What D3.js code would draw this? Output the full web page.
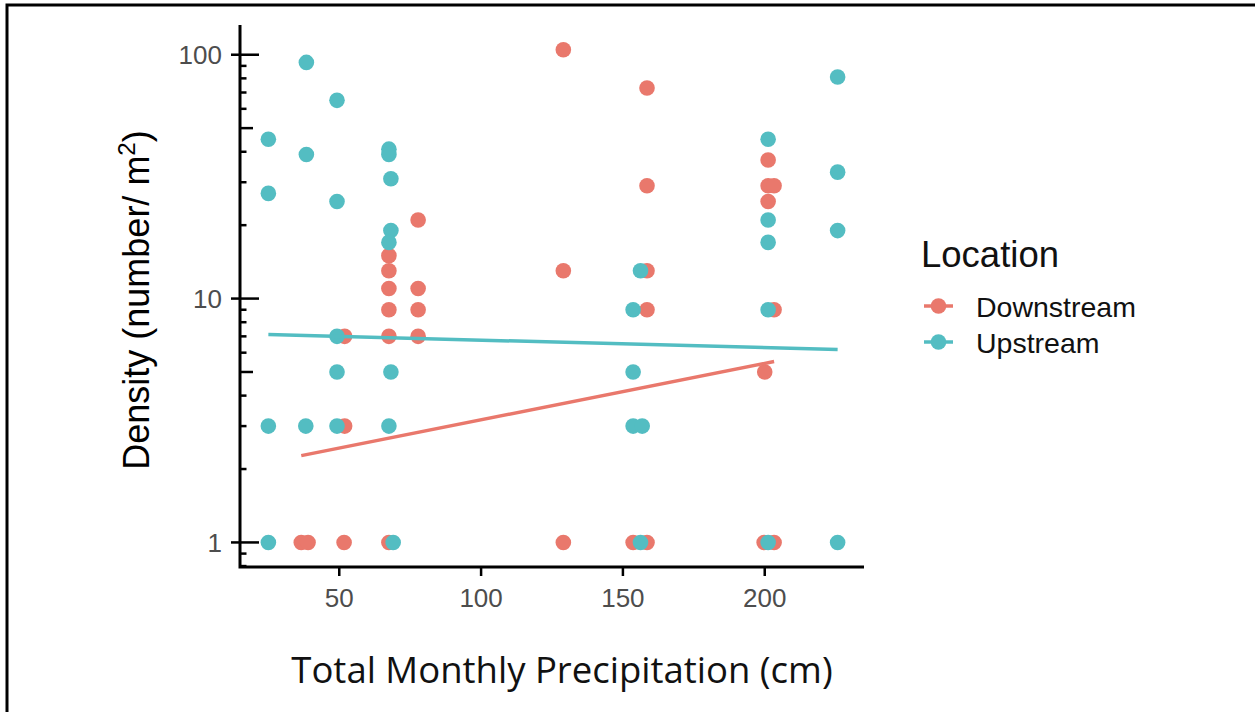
<!DOCTYPE html>
<html>
<head>
<meta charset="utf-8">
<script src="https://cdn.jsdelivr.net/npm/d3@7/dist/d3.min.js"></script>
<style>
    body { margin: 0; background: #ffffff; }
    svg { display: block; }
    .tickLabel { font-family: "Liberation Sans", Arial, sans-serif; font-size: 26px; fill: #4d4d4d; }
    .axisTitle { font-family: "Liberation Sans", Arial, sans-serif; font-size: 36px; fill: #000; }
    .xTitle { font-family: "Open Sans", "Noto Sans", sans-serif; font-size: 36.5px; fill: #111; }
    .legendTitle { font-family: "Liberation Sans", Arial, sans-serif; font-size: 36.5px; fill: #111; }
    .legendText { font-family: "Liberation Sans", Arial, sans-serif; font-size: 28.5px; fill: #111; }
</style>
</head>
<body>
<script>
//values
var downX = [36.6, 39.0, 51.9, 51.9, 51.7,
    67.5, 67.5, 67.5, 67.5, 67.5, 67.5,
    77.8, 77.8, 77.8, 77.8,
    129, 129, 129,
    158.5, 158.5, 158.5, 158.5, 153.6, 158.5,
    200, 201.2, 201.2, 203.3, 201.2, 203.3, 199.8, 203.3];
var downY = [1, 1, 7, 3, 1,
    15, 13, 11, 9, 7, 1,
    21, 11, 9, 7,
    104.8, 13, 1,
    73, 29, 13, 9, 1, 1,
    5, 37, 29, 29, 25, 9, 1, 1];

var upX = [25, 25, 25, 25,
    38.4, 38.4, 38.2,
    49.2, 49.2, 49.2, 49.2, 49.2,
    67.5, 67.5, 68.2, 68.2, 67.5, 68.2, 67.5, 69,
    153.6, 153.6, 153.6, 156.8, 156.2, 156.2,
    201.2, 201.2, 201.2, 201.2, 201.2,
    225.7, 225.7, 225.7, 225.7];
var upY = [45, 27, 3, 1,
    93, 39, 3,
    65, 25, 7, 5, 3,
    41, 39, 31, 19, 17, 5, 3, 1,
    9, 5, 3, 3, 13, 1,
    45, 21, 17, 9, 1,
    81, 33, 19, 1];

//fitted lines (end points)
var downFitX = [36.6, 203.3];
var downFitY = [2.27, 5.52];
var upFitX = [25, 225.7];
var upFitY = [7.12, 6.18];

var xTicks = [50, 100, 150, 200];
var yTicks = [1, 10, 100];
var seriesNames = ["Downstream", "Upstream"];

(function(){

    var width = 1255,
        height = 712;

    var colors = ["#e9786c", "#53bdc2"];

    //panel edges
    var left = 240, right = 864, top = 25, bottom = 567;

    var svg = d3.select("body")
        .append("svg")
        .attr("width", width)
        .attr("height", height);

    //frame round the picture
    svg.append("rect")
        .attr("x", 7)
        .attr("y", 5)
        .attr("width", width + 20)
        .attr("height", height + 20)
        .style("fill", "none")
        .style("stroke", "#000")
        .style("stroke-width", 3);

    var x = d3.scaleLinear()
        .domain([15, 235])
        .range([left, right]);

    var y = d3.scaleLog()
        .domain([0.793, 132.4])
        .range([bottom, top]);

    //log ticks inside the panel, 1-2-3 lengths
    var logTicks = [];
    [0.1, 1, 10, 100].forEach(function(dec){
        for (var k = 1; k < 10; k++){
            var v = dec * k;
            if (v >= y.domain()[0] && v <= y.domain()[1]){
                logTicks.push({v: v, len: k == 1 ? 19 : (k == 5 ? 13 : 6.5)});
            }
        }
    });

    svg.append("g")
        .selectAll("line")
        .data(logTicks)
        .enter()
        .append("line")
        .attr("x1", left)
        .attr("x2", function(d){ return left + d.len; })
        .attr("y1", function(d){ return y(d.v); })
        .attr("y2", function(d){ return y(d.v); })
        .style("stroke", "#000")
        .style("stroke-width", 2.5);

    //y axis ticks and labels
    var yAxis = svg.append("g");
    yAxis.selectAll("line")
        .data(yTicks)
        .enter()
        .append("line")
        .attr("x1", left - 9)
        .attr("x2", left)
        .attr("y1", function(d){ return y(d); })
        .attr("y2", function(d){ return y(d); })
        .style("stroke", "#000")
        .style("stroke-width", 2.5);
    yAxis.selectAll("text")
        .data(yTicks)
        .enter()
        .append("text")
        .attr("class", "tickLabel")
        .attr("x", left - 18)
        .attr("y", function(d){ return y(d) + 9.5; })
        .attr("text-anchor", "end")
        .text(function(d){ return d; });

    //x axis ticks and labels
    var xAxis = svg.append("g");
    xAxis.selectAll("line")
        .data(xTicks)
        .enter()
        .append("line")
        .attr("x1", function(d){ return x(d); })
        .attr("x2", function(d){ return x(d); })
        .attr("y1", bottom)
        .attr("y2", bottom + 9)
        .style("stroke", "#000")
        .style("stroke-width", 2.5);
    xAxis.selectAll("text")
        .data(xTicks)
        .enter()
        .append("text")
        .attr("class", "tickLabel")
        .attr("x", function(d){ return x(d); })
        .attr("y", 607)
        .attr("text-anchor", "middle")
        .text(function(d){ return d; });

    //axis lines
    svg.append("path")
        .attr("d", "M" + left + "," + top + "V" + bottom + "H" + right)
        .style("fill", "none")
        .style("stroke", "#000")
        .style("stroke-width", 3);

    //points, one series after the other
    var series = [
        {name: seriesNames[0], xs: downX, ys: downY, fx: downFitX, fy: downFitY, color: colors[0]},
        {name: seriesNames[1], xs: upX, ys: upY, fx: upFitX, fy: upFitY, color: colors[1]}
    ];

    series.forEach(function(s){
        svg.append("g")
            .selectAll("circle")
            .data(s.xs)
            .enter()
            .append("circle")
            .attr("cx", function(d){ return x(d); })
            .attr("cy", function(d, i){ return y(s.ys[i]); })
            .attr("r", 7.8)
            .style("fill", s.color);
    });

    //fitted lines
    var line = d3.line()
        .x(function(d){ return x(d[0]); })
        .y(function(d){ return y(d[1]); });

    series.forEach(function(s){
        svg.append("path")
            .datum(d3.zip(s.fx, s.fy))
            .attr("d", line)
            .style("fill", "none")
            .style("stroke", s.color)
            .style("stroke-width", 3.5);
    });

    //axis titles
    var yTitle = svg.append("text")
        .attr("class", "axisTitle")
        .attr("transform", "translate(149,300) rotate(-90)")
        .attr("text-anchor", "middle");
    yTitle.append("tspan").text("Density (number/ m");
    yTitle.append("tspan")
        .attr("font-size", "24px")
        .attr("dy", -14)
        .text("2");
    yTitle.append("tspan")
        .attr("dy", 14)
        .text(")");

    svg.append("text")
        .attr("class", "xTitle")
        .attr("x", 562)
        .attr("y", 683)
        .attr("text-anchor", "middle")
        .text("Total Monthly Precipitation (cm)");

    //legend
    var legend = svg.append("g");
    legend.append("text")
        .attr("class", "legendTitle")
        .attr("x", 921)
        .attr("y", 267)
        .text("Location");

    var keys = legend.selectAll(".key")
        .data(series)
        .enter()
        .append("g")
        .attr("class", "key")
        .attr("transform", function(d, i){ return "translate(0," + (306 + i * 36) + ")"; });
    keys.append("line")
        .attr("x1", 924)
        .attr("x2", 953)
        .style("stroke", function(d){ return d.color; })
        .style("stroke-width", 3.5);
    keys.append("circle")
        .attr("cx", 938.5)
        .attr("r", 7.8)
        .style("fill", function(d){ return d.color; });
    keys.append("text")
        .attr("class", "legendText")
        .attr("x", 976)
        .attr("y", 10.5)
        .text(function(d){ return d.name; });

})();
</script>
</body>
</html>
